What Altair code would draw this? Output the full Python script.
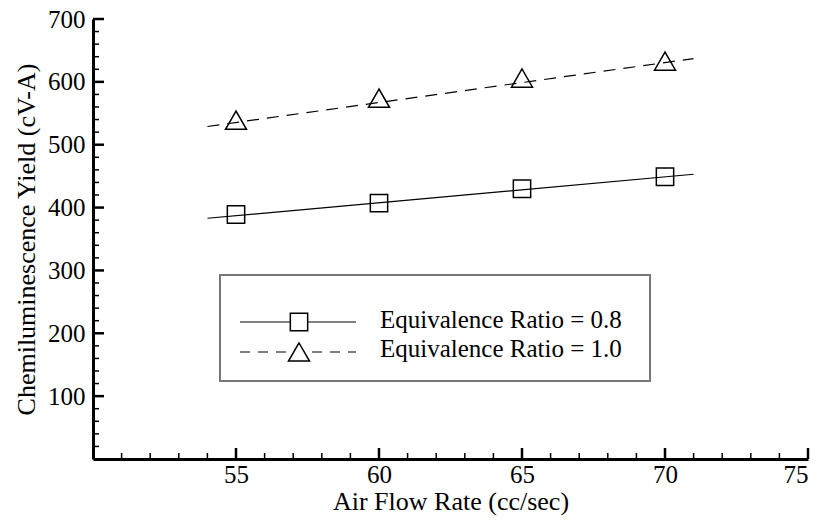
import altair as alt
import pandas as pd

# ---- data ----
air_flow = [55, 60, 65, 70]
yield_08 = [389, 407, 430, 449]
yield_10 = [539, 574, 606, 633]
fit_x = [54, 71]
fit_08 = [383, 453]
fit_10 = [529, 637]
series_names = ["Equivalence Ratio = 0.8", "Equivalence Ratio = 1.0"]

x_major = [55, 60, 65, 70, 75]
x_minor = [v for v in range(51, 75) if v % 5 != 0]
y_major = [100, 200, 300, 400, 500, 600, 700]
y_minor = [v for v in range(20, 700, 20) if v % 100 != 0]

FONT = "Liberation Serif"
FS = 25
TFS = 26
W, H = 715, 440

xs = alt.Scale(domain=[50, 75], nice=False, zero=False)
ys = alt.Scale(domain=[0, 700], nice=False, zero=False)

pts08 = pd.DataFrame({"x": air_flow, "y": yield_08})
pts10 = pd.DataFrame({"x": air_flow, "y": yield_10})
fit08 = pd.DataFrame({"x": fit_x, "y": fit_08})
fit10 = pd.DataFrame({"x": fit_x, "y": fit_10})

x_axis = alt.Axis(values=x_major, format="d", ticks=False, grid=False,
                  domainWidth=3, domainColor="black",
                  labelFont=FONT, labelFontSize=FS, labelColor="black", labelPadding=3,
                  title="Air Flow Rate (cc/sec)", titleFont=FONT, titleFontSize=TFS,
                  titleFontWeight="normal", titleColor="black", titlePadding=1)
y_axis = alt.Axis(values=y_major, format="d", ticks=False, grid=False,
                  domainWidth=3, domainColor="black",
                  labelFont=FONT, labelFontSize=FS, labelColor="black", labelPadding=8,
                  title="Chemiluminescence Yield (cV-A)", titleFont=FONT, titleFontSize=TFS,
                  titleFontWeight="normal", titleColor="black", titlePadding=8)


def X():
    return alt.X("x:Q", scale=xs, axis=x_axis)


def Y():
    return alt.Y("y:Q", scale=ys, axis=y_axis)


line08 = alt.Chart(fit08).mark_line(color="black", strokeWidth=1.2).encode(x=X(), y=Y())
line10 = alt.Chart(fit10).mark_line(color="black", strokeWidth=1.2, strokeDash=[12, 8]).encode(
    x=X(), y=Y())
p08 = alt.Chart(pts08).mark_point(shape="square", size=300, filled=False, color="black",
                                  strokeWidth=1.5, opacity=1).encode(x=X(), y=Y())
p10 = alt.Chart(pts10).mark_point(shape="triangle-up", size=441, filled=False, color="black",
                                  strokeWidth=1.5, opacity=1).encode(x=X(), y=Y())

# inward ticks
xmaj = alt.Chart(pd.DataFrame({"x": x_major})).mark_rule(color="black", strokeWidth=2.5).encode(
    x=X(), y=alt.value(H), y2=alt.value(H - 11))
xmin = alt.Chart(pd.DataFrame({"x": x_minor})).mark_rule(color="black", strokeWidth=1.5).encode(
    x=X(), y=alt.value(H), y2=alt.value(H - 6))
ymaj = alt.Chart(pd.DataFrame({"y": y_major})).mark_rule(color="black", strokeWidth=2.5).encode(
    y=Y(), x=alt.value(0), x2=alt.value(11))
ymin = alt.Chart(pd.DataFrame({"y": y_minor})).mark_rule(color="black", strokeWidth=1.5).encode(
    y=Y(), x=alt.value(0), x2=alt.value(6))

# legend box
one = pd.DataFrame({"a": [0]})
box = alt.Chart(one).mark_rect(fill="white", stroke="#777777", strokeWidth=2).encode(
    x=alt.value(127), x2=alt.value(557), y=alt.value(256), y2=alt.value(362))
leg_layers = []
rows = [(303, 309, "square", 300, None), (333, 338, "triangle-up", 441, [10, 8])]
for name, (ly, ty, shp, sz, dash) in zip(series_names, rows):
    kw = {"strokeDash": dash} if dash else {}
    leg_layers.append(alt.Chart(one).mark_rule(color="black", strokeWidth=1.2, **kw).encode(
        x=alt.value(147), x2=alt.value(263), y=alt.value(ly)))
    leg_layers.append(alt.Chart(one).mark_point(shape=shp, size=sz, filled=True, fill="white",
                                                stroke="black", strokeWidth=1.5, opacity=1).encode(
        x=alt.value(206), y=alt.value(ly)))
    leg_layers.append(alt.Chart(pd.DataFrame({"label": [name]})).mark_text(
        font=FONT, fontSize=FS, align="left", baseline="alphabetic", color="black").encode(
        x=alt.value(287), y=alt.value(ty), text="label:N"))

chart = alt.layer(line08, line10, p08, p10, xmaj, xmin, ymaj, ymin, box, *leg_layers).properties(
    width=W, height=H,
    autosize=alt.AutoSizeParams(type="none"),
    padding={"left": 93, "top": 19, "right": 14, "bottom": 61},
    background="white",
).configure_view(stroke=None)

chart.save("out.html", embed_options={"renderer": "svg", "actions": False})
